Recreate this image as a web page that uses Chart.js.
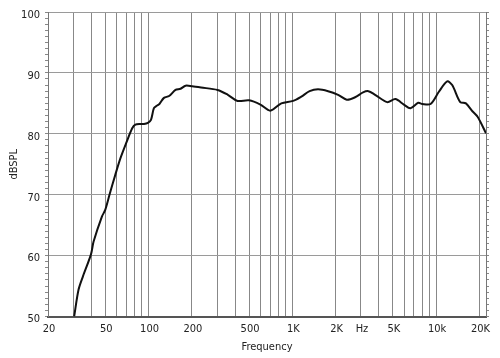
<!DOCTYPE html>
<html lang="en">
<head>
  <meta charset="UTF-8">
  <title>Frequency Response</title>
  <script src="https://cdn.jsdelivr.net/npm/chart.js"></script>
  <style>
    body { margin: 0; background: #fff; }
    #wrap { width: 500px; height: 358px; }
  </style>
</head>
<body>
  <div id="wrap"><canvas id="fr" width="500" height="358"></canvas></div>

  <script>
    const freqs = [30.4, 32.6, 35, 39.8, 41.5, 47.4, 50, 53.7, 58.8, 63.8, 70, 77, 81, 88, 93, 99,
      104, 109, 114, 119, 128, 139, 154, 167, 181, 201, 232, 302, 356, 416, 500, 600, 702, 838,
      1012, 1154, 1318, 1508, 1772, 2080, 2390, 2730, 3100, 3380, 3760, 4560, 5200, 5960,
      6620, 7500, 8000, 9140, 10440, 11920, 12920, 14700, 16100, 17860, 19400, 22200];
    const spl = [50.0, 54.4, 56.6, 60.2, 62.3, 66.4, 67.5, 70.1, 73.3, 76.0, 78.5, 80.9, 81.5, 81.6, 81.6, 81.8,
      82.3, 84.2, 84.6, 84.9, 85.9, 86.2, 87.2, 87.4, 87.9, 87.8, 87.6, 87.2, 86.4, 85.4, 85.5, 84.8, 83.8, 85.0,
      85.4, 86.1, 87.0, 87.3, 87.0, 86.4, 85.6, 86.0, 86.8, 87.0, 86.4, 85.2, 85.7, 84.8,
      84.2, 85.1, 84.9, 84.9, 86.9, 88.6, 88.0, 85.2, 85.0, 83.7, 82.8, 80.1];

    // Vertical grid lines (log decades) and the labels printed under some of them
    const gridFreqs = [20, 30, 40, 50, 60, 70, 80, 90, 100, 200, 300, 400, 500, 600, 700, 800, 900,
      1000, 2000, 3000, 4000, 5000, 6000, 7000, 8000, 9000, 10000, 20000];
    const labelFreqs = [20, 50, 100, 200, 500, 1000, 2000, 3000, 5000, 10000, 20000];
    const labelText = ['20', '50', '100', '200', '500', '1K', '2K', 'Hz', '5K', '10k', '20K'];

    const font = "'Liberation Sans Narrow', 'DejaVu Sans Condensed', 'Liberation Sans', sans-serif";

    new Chart(document.getElementById('fr').getContext('2d'), {
      type: 'line',
      data: {
        datasets: [{
          data: freqs.map((f, i) => ({ x: f, y: spl[i] })),
          borderColor: '#111',
          borderWidth: 2,
          pointRadius: 0,
          tension: 0.3,
          fill: false
        }]
      },
      options: {
        responsive: false,
        animation: false,
        layout: { padding: { top: 12, right: 0, left: 0, bottom: 0 } },
        plugins: { legend: { display: false }, tooltip: { enabled: false } },
        scales: {
          x: {
            type: 'logarithmic',
            min: 20,
            max: 22200,
            afterBuildTicks: s => { s.ticks = gridFreqs.map(v => ({ value: v })); },
            afterFit: s => { s.height = 41.5; },
            grid: { color: '#888', lineWidth: 1, drawTicks: false },
            border: { color: '#555', width: 2 },
            ticks: {
              autoSkip: false,
              maxRotation: 0,
              padding: 6,
              labelOffset: 1,
              color: '#222',
              font: { family: font, size: 11 },
              callback: v => {
                const i = labelFreqs.indexOf(v);
                return i >= 0 ? labelText[i] : '';
              }
            },
            title: {
              display: true,
              text: 'Frequency',
              color: '#222',
              font: { family: font, size: 11 },
              padding: { top: 0, bottom: 4 }
            }
          },
          y: {
            min: 50,
            max: 100,
            afterBuildTicks: s => {
              const t = [];
              for (let v = 50; v <= 100; v++) t.push({ value: v });
              s.ticks = t;
            },
            afterFit: s => { s.width = 48; },
            grid: {
              color: c => (c.tick && c.tick.value % 10 === 0) ? '#9a9a9a' : 'rgba(0,0,0,0)',
              tickColor: '#888',
              tickLength: 3,
              lineWidth: 1
            },
            border: { color: '#777', width: 1 },
            ticks: {
              autoSkip: false,
              padding: 5,
              labelOffset: 3,
              color: '#222',
              font: { family: font, size: 11 },
              callback: v => v % 10 === 0 ? String(v) : ''
            },
            title: {
              display: true,
              text: 'dBSPL',
              color: '#222',
              font: { family: font, size: 11 },
              padding: { top: 8, bottom: 0 }
            }
          },
          yRight: {
            position: 'right',
            min: 50,
            max: 100,
            afterBuildTicks: s => {
              const t = [];
              for (let v = 50; v <= 100; v++) t.push({ value: v });
              s.ticks = t;
            },
            afterFit: s => { s.width = 14; },
            grid: { drawOnChartArea: false, tickColor: '#888', tickLength: 3 },
            border: { color: '#777', width: 1 },
            ticks: { display: false }
          }
        }
      }
    });
  </script>
</body>
</html>
